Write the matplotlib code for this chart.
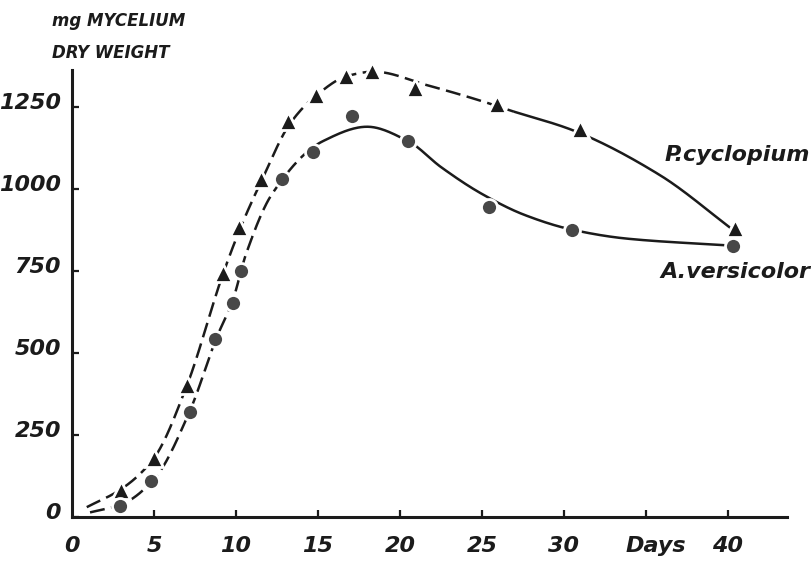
import numpy as np
import matplotlib
matplotlib.use('Agg')
import matplotlib.pyplot as plt
from matplotlib.transforms import ScaledTranslation

plt.rcParams['font.family'] = 'DejaVu Sans'

# ---------------------------------------------------------------------------
# Data (mg mycelium dry weight vs. days)
# ---------------------------------------------------------------------------
cyc_days = [3, 5, 7, 9.2, 10.2, 11.5, 13.2, 14.9, 16.7, 18.3, 20.9, 25.9, 31.0, 40.4]
cyc_mg = [83, 180, 402, 744, 883, 1031, 1207, 1288, 1346, 1360, 1308, 1260, 1184, 882]

ver_days = [2.9, 4.8, 7.2, 8.75, 9.8, 10.3, 12.8, 14.7, 17.1, 20.5, 25.4, 30.5, 40.3]
ver_mg = [34, 110, 320, 542, 653, 751, 1030, 1114, 1224, 1146, 945, 876, 827]

# hand-drawn trend curves (knots)
cyc_curve_days = [0.9, 3, 5, 7, 9.2, 10.3, 11.6, 13.3, 15, 16.8, 18.4, 21.7, 25.0,
                  26.7, 30.5, 35.8, 40.4]
cyc_curve_mg = [30, 85, 180, 400, 740, 885, 1030, 1200, 1290, 1345, 1358, 1316, 1268,
                1240, 1180, 1044, 872]
ver_curve_days = [1.1, 3, 5, 7.2, 8.8, 9.8, 10.6, 12.2, 15.3, 18.0, 20.5, 22.5, 25.0,
                  27.6, 30.5, 33.8, 40.4]
ver_curve_mg = [14, 38, 115, 325, 545, 660, 800, 985, 1146, 1190, 1146, 1067, 985,
                921, 876, 849, 827]

x_ticks = [5, 10, 15, 20, 25, 30, 35, 40]
x_tick_labels = ['5', '10', '15', '20', '25', '30', '', '40']
y_ticks = [0, 250, 500, 750, 1000, 1250]
y_tick_labels = ['0', '250', '500', '750', '1000', '1250']


def pchip(x, y, xs):
    """Shape preserving cubic through the knots, used only to draw smooth lines."""
    x = np.asarray(x, float)
    y = np.asarray(y, float)
    h = np.diff(x)
    d = np.diff(y) / h
    m = np.zeros_like(y)
    for k in range(1, len(x) - 1):
        if d[k - 1] * d[k] > 0:
            w1 = 2 * h[k] + h[k - 1]
            w2 = h[k] + 2 * h[k - 1]
            m[k] = (w1 + w2) / (w1 / d[k - 1] + w2 / d[k])
    m[0], m[-1] = d[0], d[-1]
    idx = np.clip(np.searchsorted(x, xs) - 1, 0, len(h) - 1)
    t = (xs - x[idx]) / h[idx]
    h00 = 2 * t**3 - 3 * t**2 + 1
    h10 = t**3 - 2 * t**2 + t
    h01 = -2 * t**3 + 3 * t**2
    h11 = t**3 - t**2
    return (h00 * y[idx] + h10 * h[idx] * m[idx]
            + h01 * y[idx + 1] + h11 * h[idx] * m[idx + 1])


def draw_curve(ax, kd, km, split, color):
    xs = np.linspace(kd[0], kd[-1], 600)
    ys = pchip(kd, km, xs)
    early = xs <= split
    ax.plot(xs[early], ys[early], color=color, lw=1.8,
            linestyle=(0, (6, 2.6)), solid_capstyle='butt', zorder=2)
    ax.plot(xs[~early], ys[~early], color=color, lw=1.8, zorder=2)


fig = plt.figure(figsize=(8.12, 5.76), dpi=100)
ax = fig.add_axes([72 / 812, 1 - 517 / 576, 715 / 812, 447 / 576])
ax.set_xlim(0, 43.6)
ax.set_ylim(0, 1363)

INK = '#1b1b1b'
DOT = '#474747'

draw_curve(ax, cyc_curve_days, cyc_curve_mg, 27.0, INK)
draw_curve(ax, ver_curve_days, ver_curve_mg, 14.7, INK)

ax.plot(cyc_days, cyc_mg, linestyle='none', marker='^', ms=13, color=INK,
        markeredgecolor='white', mew=2, zorder=3, clip_on=False)
ax.plot(ver_days, ver_mg, linestyle='none', marker='o', ms=11.5, color=DOT,
        markeredgecolor='white', mew=2, zorder=3, clip_on=False)

for side in ('top', 'right'):
    ax.spines[side].set_visible(False)
for side in ('left', 'bottom'):
    ax.spines[side].set_linewidth(2.2)
    ax.spines[side].set_color(INK)

tick_font = dict(fontsize=16, fontweight='bold', fontstyle='italic', color=INK)
ax.set_xticks(x_ticks)
ax.set_xticklabels(x_tick_labels, **tick_font)
ax.set_yticks(y_ticks)
ax.set_yticklabels(y_tick_labels, **tick_font)
ax.tick_params(axis='x', direction='in', length=5, width=1.6, pad=14, colors=INK)
ax.tick_params(axis='y', direction='in', length=5, width=1.6, pad=8, colors=INK)
for lab in ax.get_yticklabels():
    lab.set_transform(lab.get_transform() + ScaledTranslation(0, 0.06, fig.dpi_scale_trans))

# "0" under the origin and the "Days" unit in place of the 35 label
ax.annotate('0', xy=(0, 0), xycoords=('data', 'axes fraction'), xytext=(0, -14),
            textcoords='offset points', ha='center', va='top', **tick_font)
ax.annotate('Days', xy=(35.6, 0), xycoords=('data', 'axes fraction'), xytext=(0, -14),
            textcoords='offset points', ha='center', va='top', **tick_font)

# y-axis title above the axis
fig.text(52 / 812, 1 - 21 / 576, 'mg MYCELIUM', fontsize=12, fontweight='bold',
         fontstyle='italic', color=INK, ha='left', va='center')
fig.text(52 / 812, 1 - 53 / 576, 'DRY WEIGHT', fontsize=12, fontweight='bold',
         fontstyle='italic', color=INK, ha='left', va='center')

# species labels at the right end of the curves
ax.text(45.0, 1105, 'P.cyclopium', ha='right', va='center', clip_on=False, **tick_font)
ax.text(45.0, 748, 'A.versicolor', ha='right', va='center', clip_on=False, **tick_font)

fig.savefig('out.png', dpi=100)
